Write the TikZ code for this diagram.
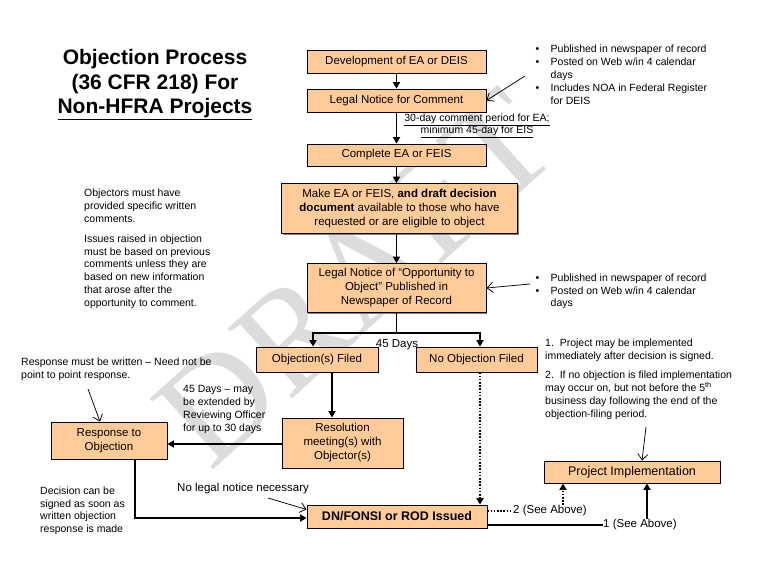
\documentclass[tikz,border=0pt]{standalone}
\usepackage{fontspec}
\setmainfont{Liberation Sans}
\newfontfamily\wmfont{Liberation Serif}
\usetikzlibrary{arrows.meta,shadows,calc}
\definecolor{boxfill}{HTML}{FFCC99}
\definecolor{wmgray}{HTML}{DCDCDC}
\newcommand\bul[1]{\makebox[15pt][l]{\textbullet}#1}
\newcommand\ind[1]{\hspace*{15pt}#1}
\begin{document}
\begin{tikzpicture}[x=1pt,y=-1pt,
  box/.style={draw=black, fill=boxfill, line width=0.8pt, inner sep=0pt, align=center,
    font=\fontsize{11.5}{14}\selectfont,
    drop shadow={shadow xshift=1.4pt, shadow yshift=-1.4pt, fill=black!50, opacity=1}},
  note/.style={inner sep=0pt, align=left, font=\fontsize{10.5}{12.8}\selectfont},
  lbl/.style={inner sep=0pt, font=\fontsize{11.5}{13}\selectfont},
  flow/.style={line width=1.8pt, -{Triangle[length=6.5pt,width=7pt]}},
  plain/.style={line width=1.8pt},
  dotflow/.style={line width=1.8pt, dash pattern=on 1.6pt off 1.6pt, -{Triangle[length=6.5pt,width=7pt]}},
  dotplain/.style={line width=1.8pt, dash pattern=on 1.6pt off 1.6pt},
  thin/.style={line width=0.75pt, -{Straight Barb[length=6pt,width=10pt]}}]
\useasboundingbox (0,0) rectangle (768,576);
\fill[white] (0,0) rectangle (768,576);
% watermark
\node[text=wmgray, rotate=42, font=\wmfont\fontsize{145}{145}\selectfont, inner sep=0pt] (wm) at (355,278) {DRAFT};
% title
\node[inner sep=0pt, align=center, font=\bfseries\fontsize{21}{24.5}\selectfont] (title) at (155,85)
  {Objection Process\\(36 CFR 218) For\\\underline{Non-HFRA Projects}};
% boxes
\node[box, minimum width=179pt, minimum height=23pt] (b1) at (396.5,61.5) {Development of EA or DEIS};
\node[box, minimum width=179pt, minimum height=23pt] (b2) at (396.5,100.5) {Legal Notice for Comment};
\node[box, minimum width=179pt, minimum height=22pt] (b3) at (396.5,155) {Complete EA or FEIS};
\node[box, minimum width=236pt, minimum height=50pt] (b4) at (399.5,208.5)
  {Make EA or FEIS, \textbf{and draft decision}\\\textbf{document} available to those who have\\requested or are eligible to object};
\node[box, minimum width=179pt, minimum height=49pt] (b5) at (396.5,288)
  {Legal Notice of ``Opportunity to\\Object'' Published in\\Newspaper of Record};
\node[box, minimum width=122pt, minimum height=25pt] (b6) at (317,359.5) {Objection(s) Filed};
\node[box, minimum width=121pt, minimum height=25pt] (b7) at (476.5,359.5) {No Objection Filed};
\node[box, minimum width=121pt, minimum height=50pt] (b8) at (342.5,443) {Resolution\\meeting(s) with\\Objector(s)};
\node[box, minimum width=116pt, minimum height=37pt] (b9) at (109,440.5) {Response to\\Objection};
\node[box, minimum width=180pt, minimum height=23pt, font=\bfseries\fontsize{12.5}{14}\selectfont] (dn) at (397,516.5) {DN/FONSI or ROD Issued};
\node[box, minimum width=176pt, minimum height=22pt, font=\fontsize{12.5}{14}\selectfont] (pi) at (632,472) {Project Implementation};
% labels
\node[inner sep=0pt, align=center, font=\fontsize{10.5}{12}\selectfont] (cmt) at (477,126)
  {\underline{30-day comment period for EA;}\\\underline{minimum 45-day for EIS}};
\node[lbl] (d45) at (397,344.5) {45 Days};
\node[note, anchor=north west, font=\fontsize{10.5}{13}\selectfont] (n1) at (535.5,44.5)
  {\bul{Published in newspaper of record}\\\bul{Posted on Web w/in 4 calendar}\\\ind{days}\\\bul{Includes NOA in Federal Register}\\\ind{for DEIS}};
\node[note, anchor=north west] (n5) at (535.5,273.5)
  {\bul{Published in newspaper of record}\\\bul{Posted on Web w/in 4 calendar}\\\ind{days}};
\node[note, anchor=north west] (nobj) at (84,189)
  {Objectors must have\\provided specific written\\comments.\\[7pt]Issues raised in objection\\must be based on previous\\comments unless they are\\based on new information\\that arose after the\\opportunity to comment.};
\node[note, anchor=north west] (nresp) at (21,358)
  {Response must be written -- Need not be\\point to point response.};
\node[note, anchor=north west] (n45) at (183,385.5)
  {45 Days -- may\\be extended by\\Reviewing Officer\\for up to 30 days};
\node[note, anchor=north west] (nimpl) at (545,338.5)
  {1.\ \ Project may be implemented\\immediately after decision is signed.\\[7pt]2.\ \ If no objection is filed implementation\\may occur on, but not before the 5\textsuperscript{th}\\business day following the end of the\\objection-filing period.};
\node[note, anchor=north west] (ndec) at (40,486.5)
  {Decision can be\\signed as soon as\\written objection\\response is made};
\node[lbl, anchor=west] (nolegal) at (177,489) {No legal notice necessary};
\node[lbl, anchor=west] (l2) at (513,511) {2 (See Above)};
\node[lbl, anchor=west] (l1) at (603,525) {1 (See Above)};
% coordinates
\coordinate (fkL) at (313,333);
\coordinate (fkR) at (480,333);
\coordinate (a2) at (563,505);
\coordinate (a1) at (647,519);
\coordinate (n1a) at (525,76);
\coordinate (n5a) at (530,284);
\coordinate (nra) at (88,389);
\coordinate (nla) at (268,498);
\coordinate (nia) at (646,427);
% flow
\draw[flow] (b1) -- (b2);
\draw[flow] (b2) -- (b3);
\draw[flow] (b3.south) -- (b3.south |- b4.north);
\draw[flow] (b4.south -| b5) -- (b5.north);
\draw[plain] (b5.south) -- (b5.south |- fkL);
\draw[plain] ([xshift=-0.9pt]fkL) -- ([xshift=0.9pt]fkR);
\draw[flow] (fkL) -- (fkL |- b6.north);
\draw[flow] (fkR) -- (fkR |- b7.north);
\draw[flow] ([xshift=15pt]b6.south) -- ([xshift=15pt]b6.south |- b8.north);
\draw[flow] ([yshift=-1pt]b8.west) -- ([yshift=-1pt]b8.west -| b9.east);
\draw[flow] ([xshift=26pt]b9.south) |- ([yshift=-1.5pt]dn.west);
\draw[dotflow] ([xshift=3.5pt]b7.south) -- ([xshift=3.5pt]b7.south |- dn.north);
\draw[dotplain] ([yshift=5.5pt]dn.east) -- ([yshift=5.5pt]dn.east -| l2.west);
\draw[plain] ([yshift=-8.5pt]dn.east) -- ([yshift=-8.5pt]dn.east -| l1.west);
\draw[dotflow] (a2) -- (a2 |- pi.south);
\draw[flow] (a1) -- (a1 |- pi.south);
% annotation arrows
\draw[thin] (n1a) -- (b2.east);
\draw[thin] (n5a) -- (b5.east);
\draw[thin] (nra) -- ([xshift=-9pt]b9.north);
\draw[thin] (nla) -- ([yshift=7pt]dn.west);
\draw[thin] (nia) -- ([xshift=10pt]pi.north);
\end{tikzpicture}
\end{document}
